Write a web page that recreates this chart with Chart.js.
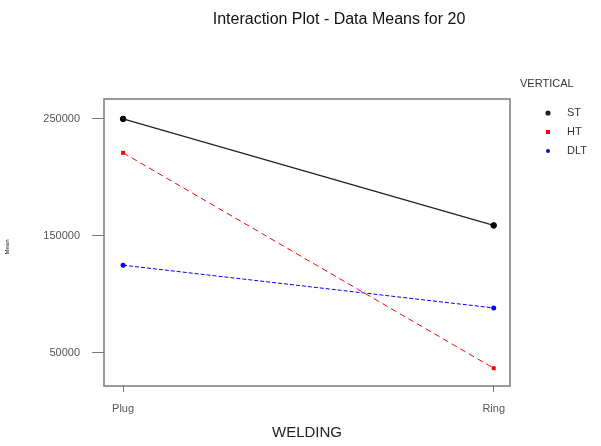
<!DOCTYPE html>
<html>
<head>
<meta charset="utf-8">
<script src="https://cdn.jsdelivr.net/npm/chart.js@4/dist/chart.umd.min.js"></script>
<style>
  html, body { margin: 0; padding: 0; background: #fff; }
  #wrap { width: 601px; height: 446px; position: relative; }
</style>
</head>
<body>
<div id="wrap"><canvas id="plot"></canvas></div>
<script>
// 数据
const categories = ['Plug', 'Ring'];
const seriesNames = ['ST', 'HT', 'DLT'];
const stMeans = [250000, 159000];
const htMeans = [221000, 37000];
const dltMeans = [125000, 88500];
const yTicks = [50000, 150000, 250000];

const GREY = '#7a7a7a';

// 标题、图框和图例
const decor = {
    id: 'decor',
    afterDraw(chart) {
        const c = chart.ctx;
        const a = chart.chartArea;
        c.save();
        c.strokeStyle = GREY;
        c.lineWidth = 1.5;
        c.strokeRect(a.left, a.top, a.right - a.left, a.bottom - a.top);

        c.fillStyle = '#111';
        c.font = '16px "Liberation Sans", Arial, sans-serif';
        c.textAlign = 'center';
        c.textBaseline = 'middle';
        c.fillText('Interaction Plot - Data Means for 20', 339, 20);

        // y 轴标题 (很小)
        c.save();
        c.translate(7, 247);
        c.rotate(-Math.PI / 2);
        c.font = '6px "Liberation Sans", Arial, sans-serif';
        c.fillText('Mean', 0, 0);
        c.restore();

        c.font = '11px "Liberation Sans", Arial, sans-serif';
        c.fillStyle = '#333';
        c.textAlign = 'left';
        c.fillText('VERTICAL', 520, 84);
        chart.data.datasets.forEach((ds, i) => {
            const y = 113 + i * 19;
            c.fillStyle = ds.borderColor;
            if (ds.pointStyle === 'rect') {
                c.fillRect(546, y - 2, 4, 4);
            } else {
                c.beginPath();
                c.arc(548, y, i === 0 ? 2.6 : 2, 0, Math.PI * 2);
                c.fill();
            }
            c.fillStyle = '#333';
            c.fillText(ds.label, 567, y);
        });
        c.restore();
    }
};

function toPoints(vals) {
    return vals.map((v, i) => ({ x: i, y: v }));
}

new Chart(document.getElementById('plot'), {
    type: 'line',
    data: {
        datasets: [{
            label: seriesNames[0],
            data: toPoints(stMeans),
            borderColor: '#222',
            backgroundColor: '#000',
            borderWidth: 1.3,
            pointStyle: 'circle',
            pointRadius: 2.8,
            pointBorderWidth: 1,
            pointBorderColor: '#000'
        }, {
            label: seriesNames[1],
            data: toPoints(htMeans),
            borderColor: '#ff0000',
            backgroundColor: '#ff0000',
            borderWidth: 1,
            borderDash: [6, 4],
            pointStyle: 'rect',
            pointRadius: 2.8,
            pointBorderWidth: 0
        }, {
            label: seriesNames[2],
            data: toPoints(dltMeans),
            borderColor: '#0000ff',
            backgroundColor: '#0000ff',
            borderWidth: 1,
            borderDash: [4, 2],
            pointStyle: 'circle',
            pointRadius: 2.5,
            pointBorderWidth: 0
        }]
    },
    options: {
        responsive: true,
        maintainAspectRatio: false,
        animation: false,
        layout: { padding: { top: 99, right: 91, bottom: 0, left: 0 } },
        scales: {
            x: {
                type: 'linear',
                min: -0.0515,
                max: 1.044,
                afterBuildTicks(ax) { ax.ticks = categories.map((c, i) => ({ value: i })); },
                afterFit(ax) { ax.height = 60; },
                border: { display: false },
                grid: { drawOnChartArea: false, tickLength: 6, color: GREY, lineWidth: 1 },
                ticks: {
                    callback: v => categories[v],
                    color: '#555',
                    font: { family: '"Liberation Sans", Arial, sans-serif', size: 11 },
                    padding: 10,
                    maxRotation: 0
                },
                title: {
                    display: true,
                    text: 'WELDING',
                    color: '#222',
                    font: { family: '"Liberation Sans", Arial, sans-serif', size: 15 },
                    padding: { top: 0 }
                }
            },
            y: {
                min: 21800,
                max: 267000,
                afterBuildTicks(ax) { ax.ticks = yTicks.map(v => ({ value: v })); },
                afterFit(ax) { ax.width = 104; },
                border: { display: false },
                grid: { drawOnChartArea: false, tickLength: 12, color: GREY, lineWidth: 1 },
                ticks: {
                    callback: v => String(v),
                    color: '#555',
                    font: { family: '"Liberation Sans", Arial, sans-serif', size: 11 },
                    padding: 12
                }
            }
        },
        plugins: {
            legend: { display: false },
            tooltip: { enabled: false }
        }
    },
    plugins: [decor]
});
</script>
</body>
</html>
